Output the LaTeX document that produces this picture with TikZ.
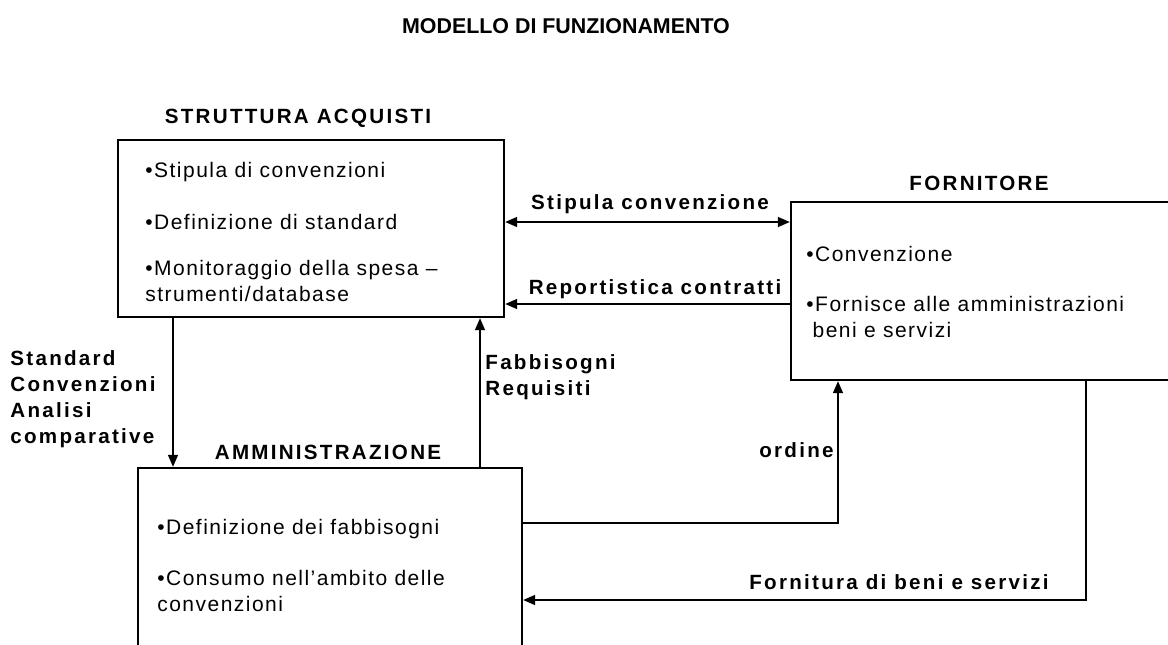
\documentclass[tikz,border=0pt]{standalone}
\usepackage{fontspec}
\setmainfont{Liberation Sans}
\usetikzlibrary{arrows.meta}

\tikzset{
  box/.style   = {shape = rectangle, draw = black, line width = 1.2pt, inner sep = 0pt},
  item/.style  = {anchor = north west, align = left, inner sep = 0pt,
                  font = \fontsize{10.5}{12.8}\selectfont\addfontfeatures{LetterSpace=7}},
  head/.style  = {inner sep = 0pt, font = \fontsize{10.3}{13}\selectfont\bfseries\addfontfeatures{LetterSpace=11}},
  flow/.style  = {-{Triangle[length=6pt, width=5pt]}, line width = 0.8pt},
  both/.style  = {{Triangle[length=6pt, width=5pt]}-{Triangle[length=6pt, width=5pt]}, line width = 0.8pt},
}

\begin{document}
\begin{tikzpicture}[x = 0.5pt, y = -0.5pt]
        \clip (0, 0) rectangle (1168, 644);

        \node[font = \fontsize{10.7}{12}\selectfont\bfseries] at (566, 26) (title) {MODELLO DI FUNZIONAMENTO};

        % ------------------------------------------------------------------------
        % Struttura acquisti
        \node[head] at (298, 118) (sa-title) {STRUTTURA ACQUISTI};
        \node[box, minimum width = 193pt, minimum height = 88.5pt] at (311, 228.5) (sa) {};
        \node[item] at (145, 162) (sa1) {•Stipula di convenzioni};
        \node[item] at (145, 214) (sa2) {•Definizione di standard};
        \node[item] at (145, 260) (sa3) {•Monitoraggio della spesa –\\strumenti/database};

        % ------------------------------------------------------------------------
        % Fornitore
        \node[head] at (979, 183) (fo-title) {FORNITORE};
        \node[box, minimum width = 204.5pt, minimum height = 89pt] at (995.5, 291) (fo) {};
        \node[item] at (806, 246) (fo1) {•Convenzione};
        \node[item] at (806, 296) (fo2) {•Fornisce alle amministrazioni\\\hspace{0.3em}beni e servizi};

        % ------------------------------------------------------------------------
        % Amministrazione
        \node[head] at (328, 452) (am-title) {AMMINISTRAZIONE};
        \node[box, minimum width = 192pt, minimum height = 126pt] at (330, 594) (am) {};
        \node[item] at (157, 519) (am1) {•Definizione dei fabbisogni};
        \node[item] at (157, 570) (am2) {•Consumo nell’ambito delle\\convenzioni};

        % ------------------------------------------------------------------------
        % Flussi
        \coordinate (stip) at (650, 222);
        \coordinate (rep)  at (650, 304);
        \coordinate (std)  at (173, 400);
        \coordinate (fab)  at (480, 400);
        \coordinate (ord)  at (838, 523);
        \coordinate (forn) at (1086, 600);

        \draw[both] (stip -| sa.east) -- (stip -| fo.west);
        \draw[flow]
          (rep -| fo.west) -- (rep -| sa.east);
        \draw[flow]
          (std |- sa.south) -- (std |- am.north);
        \draw[flow]
          (fab |- am.north) -- (fab |- sa.south);
        \draw[flow]
          (ord -| am.east) -| (ord |- fo.south);
        \draw[flow]
          (forn |- fo.south) |- (forn -| am.east);

        \node[head] at (650, 204) (l-stip) {Stipula convenzione};
        \node[head] at (655, 289) (l-rep)  {Reportistica contratti};
        \node[head, anchor = north west, align = left] at (10, 350) (l-std) {Standard\\Convenzioni\\Analisi\\comparative};
        \node[head, anchor = north west, align = left] at (485, 354) (l-fab) {Fabbisogni\\Requisiti};
        \node[head, anchor = east] at (834, 450) (l-ord) {ordine};
        \node[head] at (899, 582) (l-forn) {Fornitura di beni e servizi};
      \end{tikzpicture}
\end{document}
